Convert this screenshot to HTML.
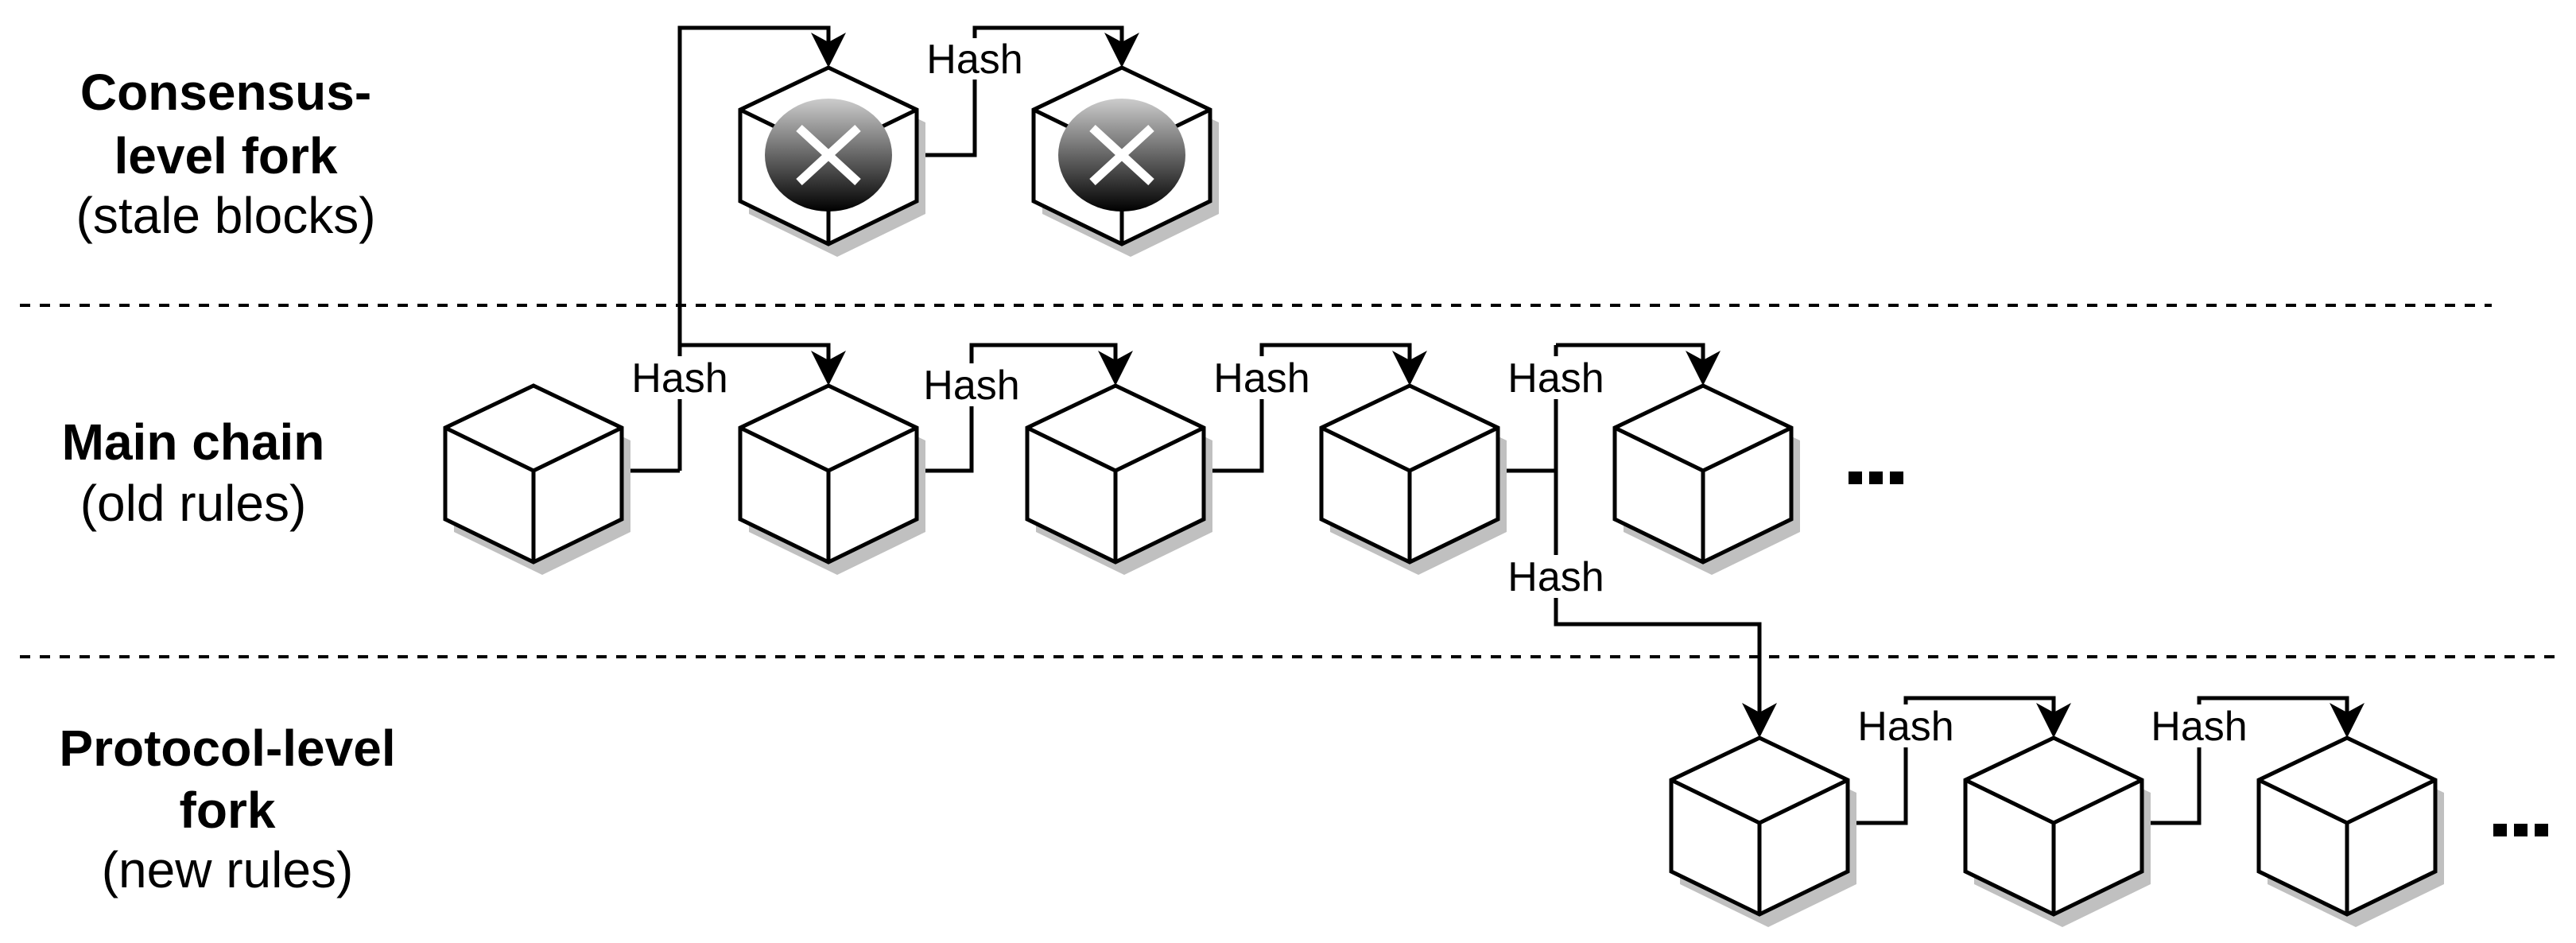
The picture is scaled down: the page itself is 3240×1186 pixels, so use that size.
<!DOCTYPE html>
<html><head><meta charset="utf-8"><style>html,body{margin:0;padding:0;background:#fff}svg{display:block}</style></head>
<body>
<svg width="3240" height="1186" viewBox="0 0 3240 1186" xmlns="http://www.w3.org/2000/svg">
<defs>
<linearGradient id="g" x1="0" y1="0" x2="0" y2="1"><stop offset="0" stop-color="#cccccc"/><stop offset="1" stop-color="#000"/></linearGradient>
<g id="cube">
<polygon points="11,16 122,69 122,184 11,238 -100,184 -100,69" fill="#c0c0c0"/>
<polygon points="0,0 111,53 111,168 0,222 -111,168 -111,53" fill="#fff" stroke="#000" stroke-width="5" stroke-linejoin="miter"/>
<polyline points="-111,53 0,107 111,53" fill="none" stroke="#000" stroke-width="5"/>
<line x1="0" y1="107" x2="0" y2="222" stroke="#000" stroke-width="5"/>
</g>
<g id="stale">
<use href="#cube"/>
<ellipse cx="0" cy="110" rx="80" ry="71" fill="url(#g)"/>
<line x1="-37" y1="76" x2="37" y2="144" stroke="#fff" stroke-width="11"/>
<line x1="37" y1="76" x2="-37" y2="144" stroke="#fff" stroke-width="11"/>
</g>
<polygon id="arr" points="0,0 -22,-44 0,-32 22,-44" fill="#000"/>
</defs>

<line x1="25" y1="384" x2="3134" y2="384" stroke="#000" stroke-width="4" stroke-dasharray="13,12"/>
<line x1="25" y1="826" x2="3217" y2="826" stroke="#000" stroke-width="4" stroke-dasharray="13,12"/>

<g font-family="Liberation Sans, sans-serif" font-size="64" text-anchor="middle" fill="#000">
<text x="284" y="138" font-weight="bold">Consensus-</text>
<text x="284" y="218" font-weight="bold">level fork</text>
<text x="284" y="293">(stale blocks)</text>
<text x="243" y="578" font-weight="bold">Main chain</text>
<text x="243" y="655">(old rules)</text>
<text x="286" y="963" font-weight="bold">Protocol-level</text>
<text x="286" y="1041" font-weight="bold">fork</text>
<text x="286" y="1116">(new rules)</text>
</g>

<g fill="none" stroke="#000" stroke-width="5">
<polyline points="855,592 855,35 1042,35 1042,60"/>
<polyline points="1152,195 1226,195 1226,35 1411,35 1411,60"/>
<polyline points="782,592 855,592"/>
<polyline points="855,434 1042,434 1042,460"/>
<polyline points="1153,592 1222,592 1222,434 1403,434 1403,460"/>
<polyline points="1514,592 1587,592 1587,434 1773,434 1773,460"/>
<polyline points="1884,592 1957,592"/>
<polyline points="1957,434 1957,785 2213,785 2213,905"/>
<polyline points="1957,434 2142,434 2142,460"/>
<polyline points="2324,1035 2397,1035 2397,878 2583,878 2583,905"/>
<polyline points="2694,1035 2766,1035 2766,878 2952,878 2952,905"/>
</g>

<g fill="#fff">
<rect x="1160" y="48" width="132" height="52"/>
<rect x="790" y="448" width="130" height="54"/>
<rect x="1157" y="457" width="130" height="54"/>
<rect x="1522" y="448" width="130" height="54"/>
<rect x="1892" y="448" width="130" height="54"/>
<rect x="1892" y="698" width="130" height="54"/>
<rect x="2332" y="886" width="130" height="54"/>
<rect x="2701" y="886" width="130" height="54"/>
</g>
<g font-family="Liberation Sans, sans-serif" font-size="52" text-anchor="middle" fill="#000">
<text x="1226" y="92">Hash</text>
<text x="855" y="493">Hash</text>
<text x="1222" y="502">Hash</text>
<text x="1587" y="493">Hash</text>
<text x="1957" y="493">Hash</text>
<text x="1957" y="743">Hash</text>
<text x="2397" y="931">Hash</text>
<text x="2766" y="931">Hash</text>
</g>

<use href="#stale" x="1042" y="85"/>
<use href="#stale" x="1411" y="85"/>
<use href="#cube" x="671" y="485"/>
<use href="#cube" x="1042" y="485"/>
<use href="#cube" x="1403" y="485"/>
<use href="#cube" x="1773" y="485"/>
<use href="#cube" x="2142" y="485"/>
<use href="#cube" x="2213" y="928"/>
<use href="#cube" x="2583" y="928"/>
<use href="#cube" x="2952" y="928"/>

<use href="#arr" x="1042" y="85"/>
<use href="#arr" x="1411" y="85"/>
<use href="#arr" x="1042" y="485"/>
<use href="#arr" x="1403" y="485"/>
<use href="#arr" x="1773" y="485"/>
<use href="#arr" x="2142" y="485"/>
<use href="#arr" x="2213" y="928"/>
<use href="#arr" x="2583" y="928"/>
<use href="#arr" x="2952" y="928"/>

<g fill="#000">
<rect x="2325" y="593" width="17" height="16"/><rect x="2351" y="593" width="17" height="16"/><rect x="2377" y="593" width="17" height="16"/>
<rect x="3136" y="1036" width="17" height="16"/><rect x="3162" y="1036" width="17" height="16"/><rect x="3188" y="1036" width="17" height="16"/>
</g>
</svg>
</body></html>
